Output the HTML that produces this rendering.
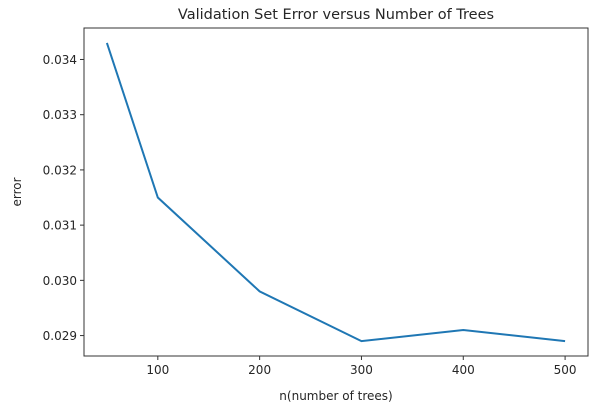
<!DOCTYPE html>
<html><head><meta charset="utf-8"><style>
body{margin:0;background:#fff;font-family:"Liberation Sans","DejaVu Sans",sans-serif}
svg text{font-family:"DejaVu Sans","Liberation Sans",sans-serif;fill:#262626}
</style></head><body>
<svg id="chart" width="610" height="415">
<text x="336" y="19" font-size="14.5" text-anchor="middle">Validation Set Error versus Number of Trees</text>
<text x="336" y="400" font-size="12" text-anchor="middle">n(number of trees)</text>
<text transform="translate(21,192) rotate(-90)" font-size="12" text-anchor="middle">error</text>
<g id="plot"></g>
</svg>
<script>
const xs=[50,100,200,300,400,500];
const errors=[0.0343,0.0315,0.0298,0.0289,0.0291,0.0289];
const xTicks=[100,200,300,400,500];
const yTicks=[0.029,0.030,0.031,0.032,0.033,0.034];
const L=84,R=588,T=28,B=356;
const xmin=27.5,xmax=522.5,ymin=0.02863,ymax=0.03457;
const X=v=>L+(v-xmin)/(xmax-xmin)*(R-L);
const Y=v=>B-(v-ymin)/(ymax-ymin)*(B-T);
const g=document.getElementById('plot');
const ns='http://www.w3.org/2000/svg';
function mk(t,a){const e=document.createElementNS(ns,t);for(const k in a)e.setAttribute(k,a[k]);g.appendChild(e);return e;}
xTicks.forEach(v=>{
 const l=mk('line',{x1:X(v),x2:X(v),y1:B,y2:B+4,stroke:'#333','stroke-width':1});
 
 
 const t=mk('text',{x:X(v),y:B+18,'font-size':12,'text-anchor':'middle'});t.textContent=v;
 
 
});
yTicks.forEach(v=>{
 const l=mk('line',{x1:L-4,x2:L,y1:Y(v),y2:Y(v),stroke:'#333','stroke-width':1});
 
 
 const t=mk('text',{x:L-7,y:Y(v)+4.5,'font-size':12,'text-anchor':'end'});t.textContent=v.toFixed(3);
 
 
});
const line=mk('polyline',{points:xs.map((x,i)=>X(x)+','+Y(errors[i])).join(' '),fill:'none',stroke:'#1f77b4','stroke-width':2});


const f=mk('rect',{x:L,y:T,width:R-L,height:B-T,fill:'none',stroke:'#333','stroke-width':1});


</script>
</body></html>
